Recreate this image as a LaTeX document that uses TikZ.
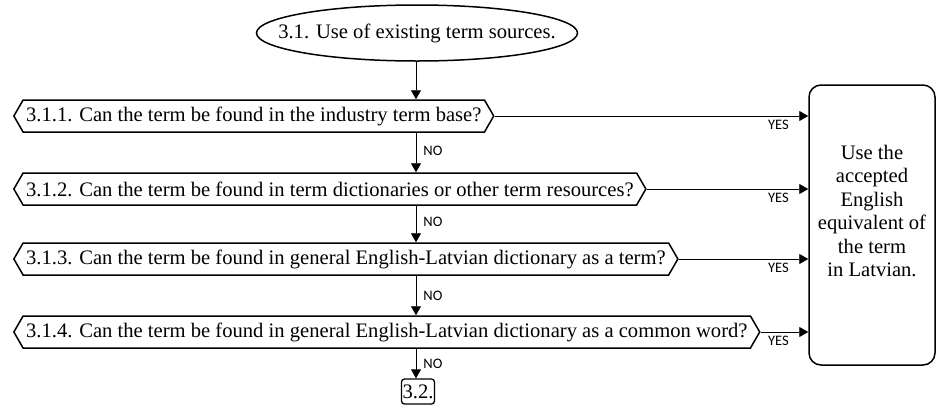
\documentclass[tikz,border=0pt]{standalone}
\usepackage{fontspec}
\setmainfont{Liberation Serif}
\newfontfamily\lblfont{Carlito}
\usetikzlibrary{shapes.geometric,shapes.symbols,arrows.meta}
\newcommand{\qfont}{\fontsize{20.6pt}{23.5pt}\selectfont}
\newcommand{\lfont}{\lblfont\fontsize{14.5pt}{16pt}\selectfont}
\begin{document}
\begin{tikzpicture}[x={(1pt,0pt)},y={(0pt,-1pt)},
  qbox/.style={signal, signal to=west and east, signal pointer angle=120, draw, line width=1.5pt,
    minimum height=32pt, inner xsep=3pt, inner ysep=0pt, font=\qfont, anchor=west},
  flow/.style={line width=0.9pt, -{Triangle[length=9pt,width=10pt]}},
  nolbl/.style={font=\lfont, inner sep=0pt, anchor=west, xshift=7pt},
  yeslbl/.style={font=\lfont, inner sep=0pt, anchor=north east, xshift=-19pt, yshift=-4pt}]
\useasboundingbox (0,0) rectangle (936,405);
\node[ellipse, draw, line width=1.5pt, minimum width=321pt, minimum height=56pt, inner sep=0pt, font=\qfont]
  (start) at (417,33) {\makebox[0pt]{3.1. Use of existing term sources.}};
\node[qbox] (q1) at (13,116) {3.1.1. Can the term be found in the industry term base?};
\node[qbox] (q2) at (13,189) {3.1.2. Can the term be found in term dictionaries or other term resources?};
\node[qbox] (q3) at (13,259) {3.1.3. Can the term be found in general English-Latvian dictionary as a term?};
\node[qbox] (q4) at (13,332) {3.1.4. Can the term be found in general English-Latvian dictionary as a common word?};
\node[draw, rounded corners=12pt, line width=1.5pt, minimum width=126pt, minimum height=280pt, inner sep=0pt]
  (use) at (872,225) {};
\node[font=\qfont, align=center, inner sep=0pt] (usetxt) at (872,211)
  {Use the\\accepted\\English\\equivalent of\\the term\\in Latvian.};
\node[draw, rounded corners=3pt, line width=1.3pt, minimum width=33pt, minimum height=25pt, inner sep=1pt, font=\qfont]
  (next) at (418,391.5) {3.2.};
\coordinate (vx) at (416,0);
\draw[flow] (vx |- start.south) -- (vx |- q1.north);
\draw[flow] (vx |- q1.south) -- node[nolbl, pos=0.45] {NO} (vx |- q2.north);
\draw[flow] (vx |- q2.south) -- node[nolbl, pos=0.45] {NO} (vx |- q3.north);
\draw[flow] (vx |- q3.south) -- node[nolbl, pos=0.5] {NO} (vx |- q4.north);
\draw[flow] (vx |- q4.south) -- node[nolbl, pos=0.5] {NO} (vx |- next.north);
\draw[flow] (q1.east) -- node[yeslbl, pos=1] {YES} (q1.east -| use.west);
\draw[flow] (q2.east) -- node[yeslbl, pos=1] {YES} (q2.east -| use.west);
\draw[flow] (q3.east) -- node[yeslbl, pos=1] {YES} (q3.east -| use.west);
\draw[flow] (q4.east) -- node[yeslbl, pos=1] {YES} (q4.east -| use.west);
\end{tikzpicture}
\end{document}
